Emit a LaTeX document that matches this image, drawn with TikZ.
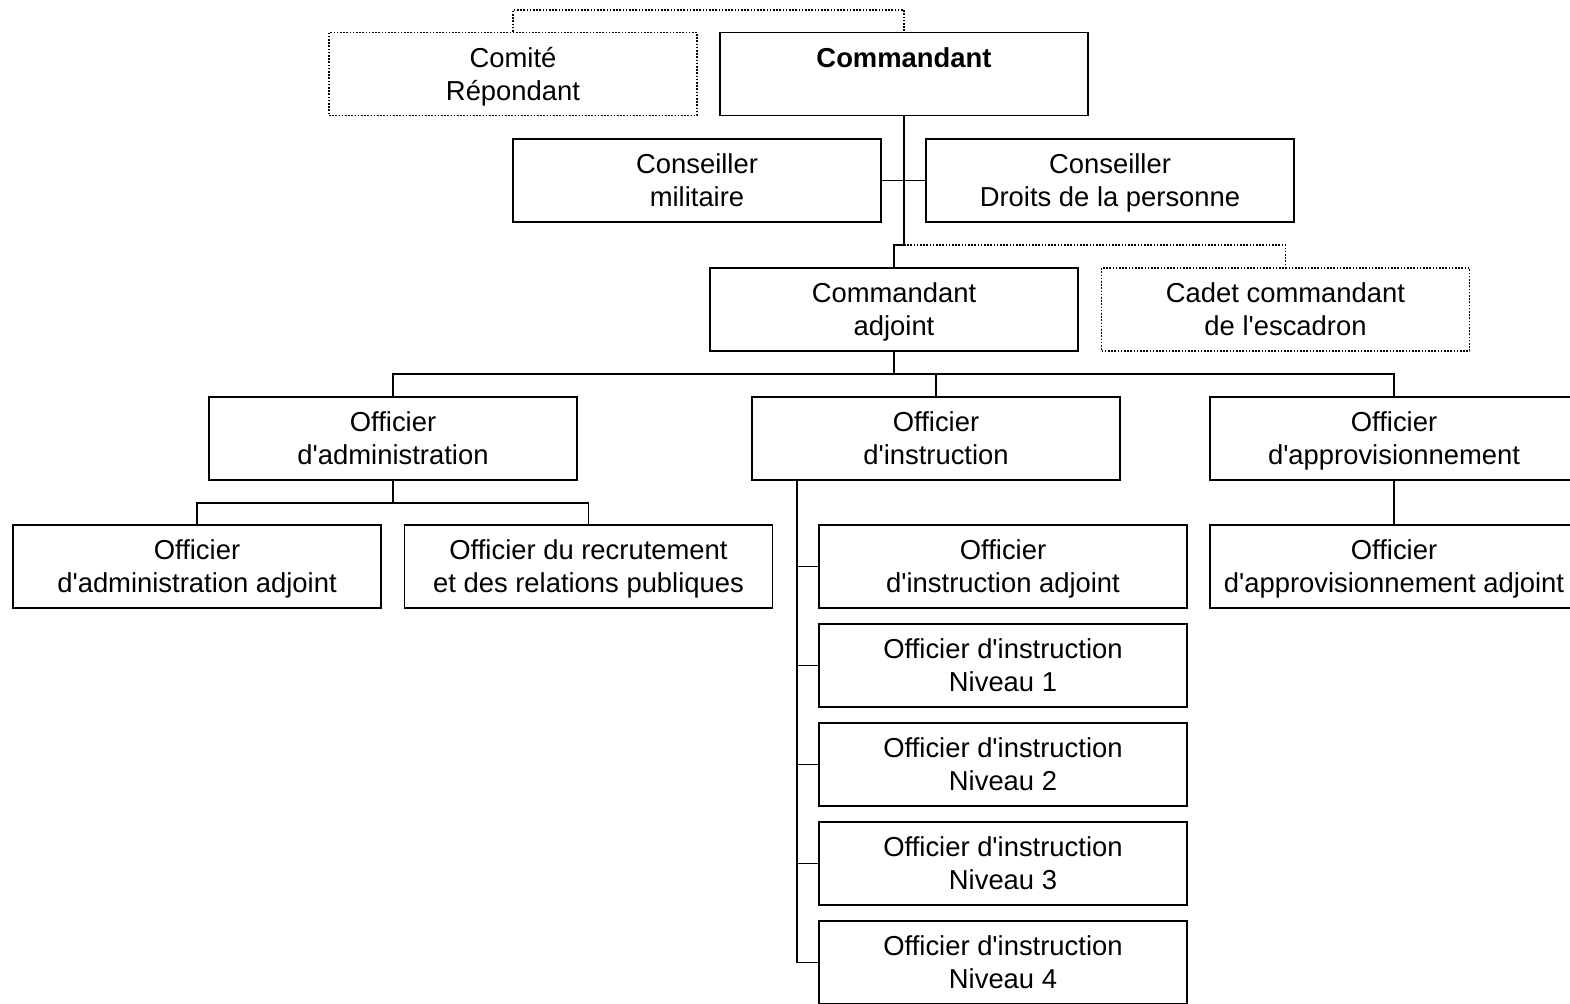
\documentclass[tikz,border=0pt]{standalone}
\usepackage{fontspec}
\setmainfont{Liberation Sans}[Ligatures=TeXOff]
\newcommand\topstrut{\rule[-0.3\baselineskip]{0pt}{\dimexpr\baselineskip+3pt\relax}}
\newcommand\twol[2]{\topstrut#1\\\strut#2}
\begin{document}
\begin{tikzpicture}[x=0.5pt,y=-0.5pt,
  every node/.style={font=\fontsize{13.7pt}{16.5pt}\selectfont},
  box/.style={draw,line width=0.95pt,minimum width=184pt,minimum height=41.5pt,inner sep=0pt,align=center},
  dotbox/.style={box,dash pattern=on 0.8pt off 0.8pt},
  link/.style={line width=0.95pt},
  dotlink/.style={line width=0.95pt,dash pattern=on 0.8pt off 0.8pt}]
\clip (0,0) rectangle (1570,1003);
\fill[white] (0,0) rectangle (1570,1003);
\node[dotbox] (com) at (513,74) {\twol{Comité}{Répondant}};
\node[box] (cmd) at (904,74) {\twol{\textbf{Commandant}}{}};
\node[box] (cmil) at (697,180.5) {\twol{Conseiller}{militaire}};
\node[box] (cdr) at (1110,180.5) {\twol{Conseiller}{Droits de la personne}};
\node[box] (cadj) at (894,309.5) {\twol{Commandant}{adjoint}};
\node[dotbox] (cadet) at (1285.5,309.5) {\twol{Cadet commandant}{de l'escadron}};
\node[box] (oadm) at (393,438.5) {\twol{Officier}{d'administration}};
\node[box] (oins) at (936,438.5) {\twol{Officier}{d'instruction}};
\node[box] (oapp) at (1394,438.5) {\twol{Officier}{d'approvisionnement}};
\node[box] (oadma) at (197,566.5) {\twol{Officier}{d'administration adjoint}};
\node[box] (orec) at (588.5,566.5) {\twol{Officier du recrutement}{et des relations publiques}};
\node[box] (oinsa) at (1003,566.5) {\twol{Officier}{d'instruction adjoint}};
\node[box] (n1) at (1003,665.5) {\twol{Officier d'instruction}{Niveau 1}};
\node[box] (n2) at (1003,764.5) {\twol{Officier d'instruction}{Niveau 2}};
\node[box] (n3) at (1003,863.5) {\twol{Officier d'instruction}{Niveau 3}};
\node[box] (n4) at (1003,962.5) {\twol{Officier d'instruction}{Niveau 4}};
\node[box] (oappa) at (1394,566.5) {\twol{Officier}{d'approvisionnement adjoint}};
% connectors
\coordinate (top) at (513,10);
\draw[dotlink] (com.north) -- (top) -| (cmd.north);
\coordinate (j1) at (904,245);
\draw[link] (cmd.south) -- (j1);
\draw[link] (cmil.east) -- (cdr.west);
\draw[link] (j1) -| (cadj.north);
\draw[dotlink] (j1) -| (cadet.north);
\coordinate (j2) at (894,374);
\draw[link] (cadj.south) -- (j2);
\draw[link] (j2) -| (oadm.north);
\draw[link] (j2) -| (oins.north);
\draw[link] (j2) -| (oapp.north);
\coordinate (j3) at (393,503);
\draw[link] (oadm.south) -- (j3);
\draw[link] (j3) -| (oadma.north);
\draw[link] (j3) -| (orec.north);
\coordinate (is) at (797,480);
\draw[link] (is) |- (oinsa.west);
\draw[link] (is) |- (n1.west);
\draw[link] (is) |- (n2.west);
\draw[link] (is) |- (n3.west);
\draw[link] (is) |- (n4.west);
\draw[link] (oapp.south) -- (oappa.north);
\end{tikzpicture}
\end{document}
